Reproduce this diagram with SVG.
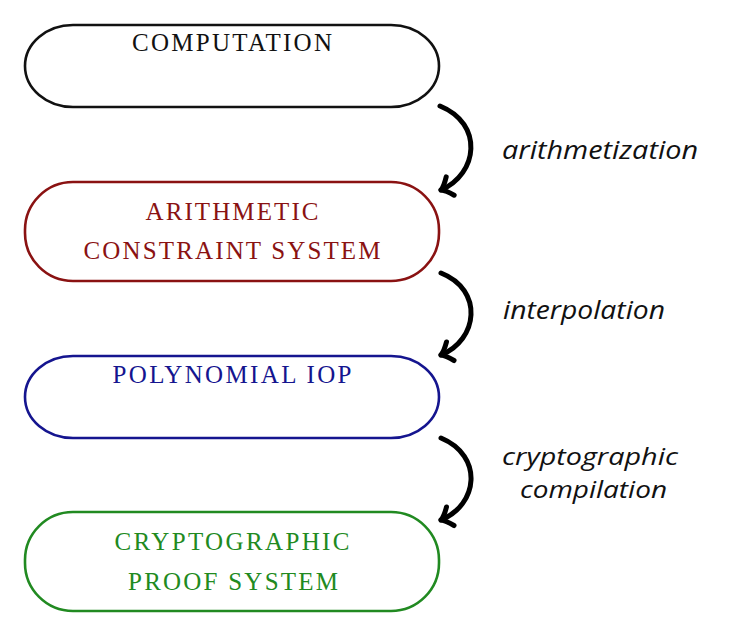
<svg xmlns="http://www.w3.org/2000/svg" width="737" height="637" viewBox="0 0 737 637">
  <style>
    .box { fill: #ffffff; stroke-width: 2.6; }
    .title { font-family: "Liberation Serif", "Times New Roman", serif; font-size: 25px; text-anchor: middle; }
    .step { font-family: "Open Sans", "DejaVu Sans", sans-serif; font-style: italic; font-size: 26px; fill: #111111; }
    .step.two { font-size: 24px; }
    .flow { fill: none; stroke: #000000; stroke-width: 5; stroke-linecap: round; marker-end: url(#to); }
    .black { stroke: #111111; } .black-t { fill: #111111; }
    .red { stroke: #8a1212; } .red-t { fill: #8a1212; }
    .blue { stroke: #15158f; } .blue-t { fill: #15158f; }
    .green { stroke: #218a21; } .green-t { fill: #218a21; }
  </style>
  <defs>
    <marker id="to" markerUnits="userSpaceOnUse" orient="auto" refX="0" refY="0" markerWidth="30" markerHeight="30" viewBox="-15 -15 30 30" overflow="visible">
      <path d="M-10,-10 Q-4,-2 0,0 Q-4,2 -10,10" fill="none" stroke="#000000" stroke-width="5" stroke-linecap="round" stroke-linejoin="round"/>
    </marker>
  </defs>
  <rect width="737" height="637" fill="#ffffff"/>

  <!-- stages -->
  <g id="computation">
    <rect class="box black" x="25" y="25" width="414" height="82" rx="48" ry="41"/>
    <text class="title black-t" x="232" y="51" textLength="200" lengthAdjust="spacing">COMPUTATION</text>
  </g>
  <g id="constraint-system">
    <rect class="box red" x="25" y="182" width="414" height="99" rx="48" ry="48"/>
    <text class="title red-t" x="232" y="220" textLength="173" lengthAdjust="spacing">ARITHMETIC</text>
    <text class="title red-t" x="232" y="259" textLength="297" lengthAdjust="spacing">CONSTRAINT SYSTEM</text>
  </g>
  <g id="polynomial-iop">
    <rect class="box blue" x="25" y="356" width="414" height="82" rx="48" ry="41"/>
    <text class="title blue-t" x="232" y="383" textLength="239" lengthAdjust="spacing">POLYNOMIAL IOP</text>
  </g>
  <g id="proof-system">
    <rect class="box green" x="25" y="512" width="414" height="99" rx="48" ry="48"/>
    <text class="title green-t" x="232" y="550" textLength="235" lengthAdjust="spacing">CRYPTOGRAPHIC</text>
    <text class="title green-t" x="233" y="590" textLength="210" lengthAdjust="spacing">PROOF SYSTEM</text>
  </g>

  <!-- transformations between stages -->
  <g id="connectors">
    <path class="flow" d="M440,106 C484,124 478,174 441,190"/>
    <path class="flow" d="M441,273 C484,290 478,340 441,355"/>
    <path class="flow" d="M441,438 C484,456 478,505 441,520"/>
  </g>

  <g id="labels">
    <text class="step" x="502" y="159" textLength="196" lengthAdjust="spacingAndGlyphs">arithmetization</text>
    <text class="step" x="503" y="319" textLength="162" lengthAdjust="spacingAndGlyphs">interpolation</text>
    <text class="step two" x="502" y="465" textLength="176" lengthAdjust="spacingAndGlyphs">cryptographic</text>
    <text class="step two" x="520" y="498" textLength="147" lengthAdjust="spacingAndGlyphs">compilation</text>
  </g>
</svg>
